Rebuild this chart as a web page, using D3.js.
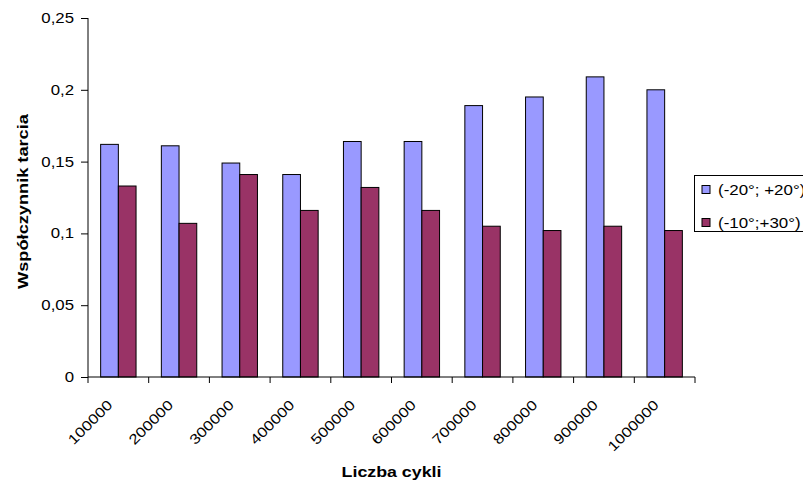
<!DOCTYPE html>
<html><head><meta charset="utf-8">
<script src="https://cdn.jsdelivr.net/npm/d3@7"></script>
<style>body{margin:0;background:#fff}svg{display:block}text{font-family:"Liberation Sans",Arial,sans-serif}</style>
</head><body>
<svg id="c" width="803" height="484"></svg>
<script>
const categories = ["100000","200000","300000","400000","500000","600000","700000","800000","900000","1000000"];
const seriesNames = ["(-20°; +20°)", "(-10°;+30°)"];
const seriesA = [0.162, 0.161, 0.149, 0.141, 0.164, 0.164, 0.189, 0.195, 0.209, 0.200];
const seriesB = [0.133, 0.107, 0.141, 0.116, 0.132, 0.116, 0.105, 0.102, 0.105, 0.102];
const yTicks = [0, 0.05, 0.1, 0.15, 0.2, 0.25];
const colors = ["#9999FF", "#993366"];

const svg = d3.select("#c");
const L = 88, R = 695, T = 18, B = 377;
const x = d3.scaleBand().domain(categories).range([L, R]).paddingInner(0).paddingOuter(0);
const y = d3.scaleLinear().domain([0, 0.25]).range([B, T]);
const bw = 17.7;
const sub = d3.scaleBand().domain([0,1]).range([0, bw*2]);

const rows = categories.map((c,i)=>({c, vals:[seriesA[i], seriesB[i]]}));
const g = svg.append("g");
rows.forEach(r=>{
  const off = x(r.c) + (x.bandwidth() - bw*2)/2;
  r.vals.forEach((v,j)=>{
    g.append("rect").attr("x", off + sub(j)).attr("y", y(v)).attr("width", bw).attr("height", y(0)-y(v))
      .attr("fill", colors[j]).attr("stroke","#000").attr("stroke-width",1);
  });
});

// y axis
const ya = svg.append("g").attr("transform",`translate(${L},0)`)
  .call(d3.axisLeft(y).tickValues(yTicks).tickSize(7).tickFormat(""));
ya.selectAll("line,path").attr("stroke","#000");
ya.select(".domain").attr("d",`M0,${T}V${B}`);
svg.append("g").selectAll("text").data(yTicks).enter().append("text")
  .attr("transform",d=>`translate(74,${y(d)}) scale(1.2,1)`)
  .attr("text-anchor","end").attr("dy","0.35em").attr("font-size",14).attr("fill","#000")
  .text(d=>String(d).replace(".",","));

// x axis
const xa = svg.append("g").attr("transform",`translate(0,${B})`)
  .call(d3.axisBottom(x).tickSize(6).tickFormat(""));
xa.selectAll(".tick").remove();
xa.select(".domain").attr("d",`M${L},0H${R}`).attr("stroke","#000");
const edges = categories.map(c=>x(c)).concat([R]);
xa.selectAll("line.e").data(edges).enter().append("line").attr("class","e")
  .attr("x1",d=>d).attr("x2",d=>d).attr("y1",0).attr("y2",6).attr("stroke","#000");
xa.selectAll("text.l").data(categories).enter().append("text").attr("class","l")
  .attr("transform",d=>`translate(${x(d)+x.bandwidth()/2-5},29) rotate(-45) scale(1.2,1)`)
  .attr("text-anchor","end").attr("font-size",14).attr("fill","#000").text(d=>d);

// titles
svg.append("text").attr("transform",`translate(${(L+R)/2},477) scale(1.27,1)`).attr("text-anchor","middle")
  .attr("font-size",14).attr("font-weight","bold").text("Liczba cykli");
svg.append("text").attr("transform",`translate(27.5,201.5) rotate(-90) scale(1.3,1)`).attr("text-anchor","middle")
  .attr("font-size",14).attr("font-weight","bold").text("Współczynnik tarcia");

// legend
const lg = svg.append("g").attr("transform","translate(694.5,175.5)");
lg.append("rect").attr("width",130).attr("height",56).attr("fill","#fff").attr("stroke","#000");
seriesNames.forEach((n,i)=>{
  const yy = 14 + i*33;
  lg.append("rect").attr("x",7.5).attr("y",yy-4).attr("width",8).attr("height",8).attr("fill",colors[i]).attr("stroke","#000");
  lg.append("text").attr("transform",`translate(23.5,${yy+5}) scale(1.21,1)`).attr("font-size",14).text(n);
});
</script>
</body></html>
